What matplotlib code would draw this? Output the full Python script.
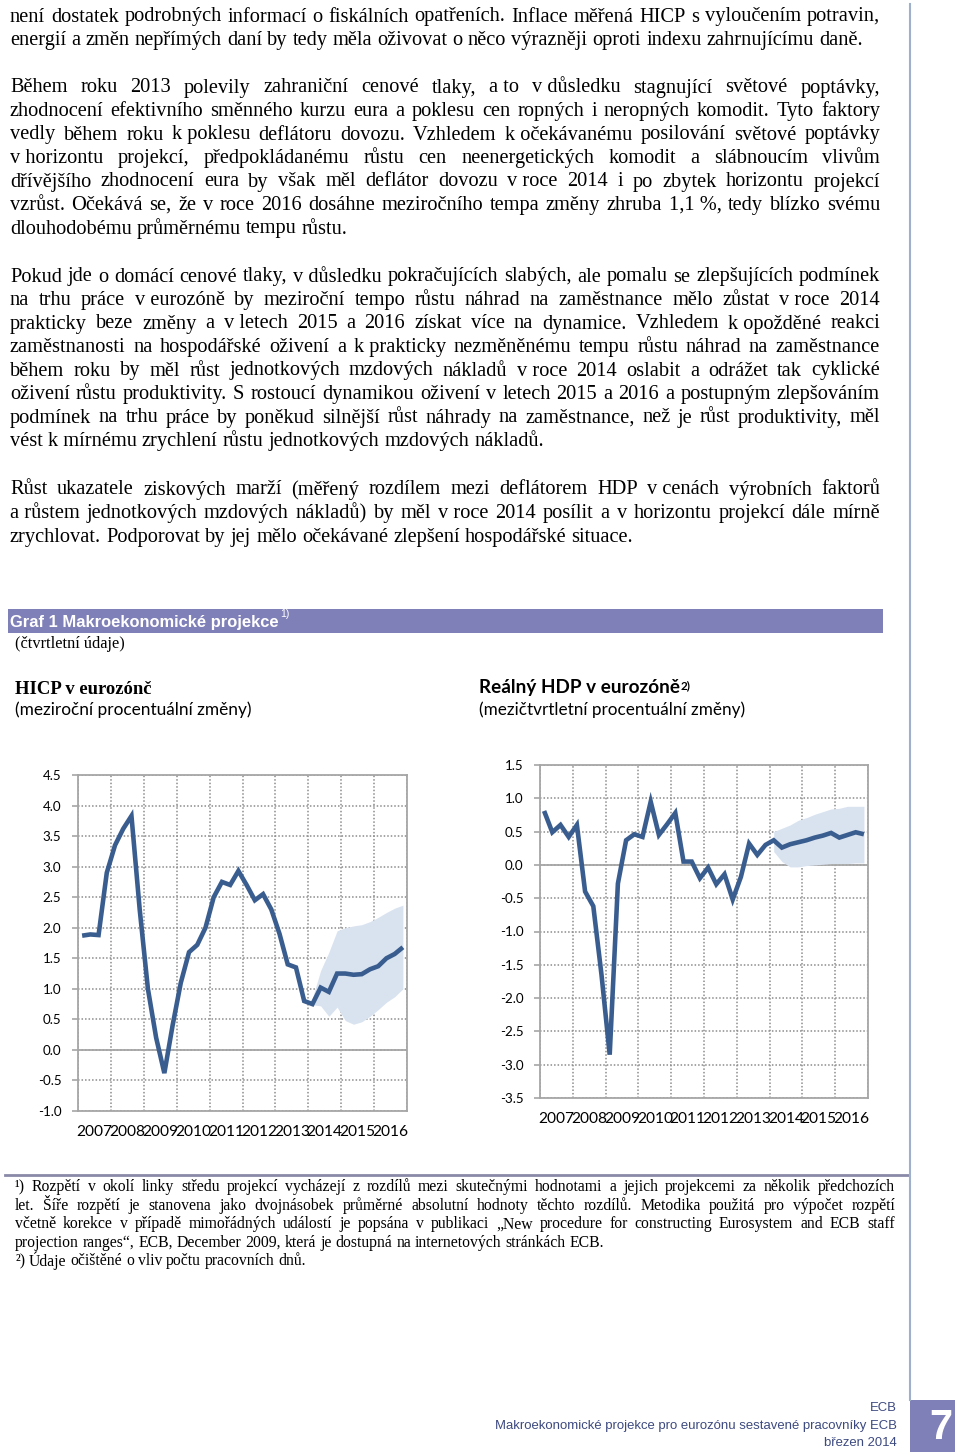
import numpy as np
import matplotlib
matplotlib.use("Agg")
import matplotlib.pyplot as plt
from matplotlib.patches import Rectangle

# ============================================================
# DATA
# ============================================================
years = list(range(2007, 2017))
quarters = [f"{y}Q{q}" for y in years for q in range(1, 5)]

# HICP, y/y % change (quarterly)
hicp = [1.87, 1.89, 1.88, 2.90, 3.35, 3.62, 3.83, 2.30,
        1.00, 0.20, -0.38, 0.40, 1.10, 1.60, 1.72, 2.00,
        2.50, 2.75, 2.70, 2.93, 2.70, 2.45, 2.55, 2.30,
        1.90, 1.40, 1.35, 0.80, 0.75, 1.02, 0.95, 1.25,
        1.25, 1.23, 1.24, 1.32, 1.37, 1.50, 1.57, 1.68]
hicp_lo = [0.74, 0.72, 0.55, 0.70, 0.48, 0.42, 0.46, 0.55, 0.66, 0.78, 0.87, 1.00]
hicp_hi = [0.85, 1.30, 1.60, 1.95, 2.00, 2.03, 2.05, 2.10, 2.17, 2.25, 2.32, 2.37]

# Real GDP, q/q % change
gdp = [0.81, 0.49, 0.60, 0.42, 0.60, -0.40, -0.62, -1.65,
       -2.85, -0.28, 0.37, 0.46, 0.42, 0.95, 0.45, 0.61,
       0.78, 0.05, 0.05, -0.20, -0.04, -0.29, -0.14, -0.52,
       -0.18, 0.32, 0.15, 0.30, 0.37, 0.26, 0.31, 0.34,
       0.37, 0.41, 0.44, 0.48, 0.41, 0.45, 0.49, 0.46]
gdp_lo = [0.20, 0.05, -0.03, -0.03, -0.01, 0.00, 0.01, 0.02, 0.02, 0.02, 0.03, 0.03]
gdp_hi = [0.50, 0.55, 0.60, 0.67, 0.71, 0.76, 0.80, 0.84, 0.85, 0.88, 0.88, 0.88]
proj_start = "2014Q1"

hicp_ticks = np.arange(-1.0, 4.51, 0.5)
gdp_ticks = np.arange(-3.5, 1.51, 0.5)

NB = "\u00a0"
para1 = [
    "není dostatek podrobných informací o fiskálních opatřeních. Inflace měřená HICP s vyloučením potravin,",
    "energií a změn nepřímých daní by tedy měla oživovat o něco výrazněji oproti indexu zahrnujícímu daně.",
]
para2 = [
    f"Během roku 2013 polevily zahraniční cenové tlaky, a{NB}to v{NB}důsledku stagnující světové poptávky,",
    "zhodnocení efektivního směnného kurzu eura a poklesu cen ropných i neropných komodit. Tyto faktory",
    f"vedly během roku k{NB}poklesu deflátoru dovozu. Vzhledem k{NB}očekávanému posilování světové poptávky",
    f"v{NB}horizontu projekcí, předpokládanému růstu cen neenergetických komodit a slábnoucím vlivům",
    f"dřívějšího zhodnocení eura by však měl deflátor dovozu v{NB}roce 2014 i po zbytek horizontu projekcí",
    f"vzrůst. Očekává se, že v roce 2016 dosáhne meziročního tempa změny zhruba 1,1{NB}%, tedy blízko svému",
    "dlouhodobému průměrnému tempu růstu.",
]
para3 = [
    f"Pokud jde o domácí cenové tlaky, v{NB}důsledku pokračujících slabých, ale pomalu se zlepšujících podmínek",
    f"na trhu práce v{NB}eurozóně by meziroční tempo růstu náhrad na zaměstnance mělo zůstat v{NB}roce 2014",
    f"prakticky beze změny a v{NB}letech 2015 a 2016 získat více na dynamice. Vzhledem k{NB}opožděné reakci",
    f"zaměstnanosti na hospodářské oživení a k{NB}prakticky nezměněnému tempu růstu náhrad na zaměstnance",
    f"během roku by měl růst jednotkových mzdových nákladů v{NB}roce 2014 oslabit a odrážet tak cyklické",
    "oživení růstu produktivity. S rostoucí dynamikou oživení v letech 2015 a 2016 a postupným zlepšováním",
    "podmínek na trhu práce by poněkud silnější růst náhrady na zaměstnance, než je růst produktivity, měl",
    f"vést k{NB}mírnému zrychlení růstu jednotkových mzdových nákladů.",
]
para4 = [
    f"Růst ukazatele ziskových marží (měřený rozdílem mezi deflátorem HDP v{NB}cenách výrobních faktorů",
    f"a{NB}růstem jednotkových mzdových nákladů) by měl v{NB}roce 2014 posílit a v horizontu projekcí dále mírně",
    "zrychlovat. Podporovat by jej mělo očekávané zlepšení hospodářské situace.",
]
notes1 = [
    "¹) Rozpětí v okolí linky středu projekcí vycházejí z rozdílů mezi skutečnými hodnotami a jejich projekcemi za několik předchozích",
    "let. Šíře rozpětí je stanovena jako dvojnásobek průměrné absolutní hodnoty těchto rozdílů. Metodika použitá pro výpočet rozpětí",
    "včetně korekce v případě mimořádných událostí je popsána v publikaci „New procedure for constructing Eurosystem and ECB staff",
    "projection ranges“, ECB, December 2009, která je dostupná na internetových stránkách ECB.",
]
notes2 = ["²) Údaje očištěné o vliv počtu pracovních dnů."]

# ============================================================
# STYLE
# ============================================================
SERIF = ["Liberation Serif", "DejaVu Serif"]
SANS = ["Lato", "DejaVu Sans"]
NARROW = ["Liberation Sans", "DejaVu Sans"]
LINE_COLOR = "#3a5d8f"
BAND_COLOR = "#d9e3f0"
GRID_COLOR = "#8c8c8c"
FRAME_COLOR = "#a6a6a6"

fig = plt.figure(figsize=(9.6, 14.55), dpi=100)
page = fig.add_axes([0, 0, 1, 1], zorder=0)
page.set_xlim(0, 960)
page.set_ylim(1455, 0)
page.axis("off")
renderer = fig.canvas.get_renderer()


def justify(lines, x0, x1, y0, dy, size, family, **kw):
    for i, line in enumerate(lines):
        y = y0 + i * dy
        words = line.split(" ")
        texts = [page.text(0, y, w, va="center", ha="left", fontsize=size,
                           family=family, **kw) for w in words]
        widths = [t.get_window_extent(renderer).width for t in texts]
        if i == len(lines) - 1 or len(words) == 1:
            gap = size * 100 / 72 * 0.25
        else:
            gap = (x1 - x0 - sum(widths)) / (len(words) - 1)
        x = x0
        for t, w in zip(texts, widths):
            t.set_x(x)
            x += w + gap


def fit(x, y, s, width, size=10, **kw):
    # shrink/grow the font so that the string spans the given pixel width
    t = page.text(x, y, s, va="center", fontsize=size, **kw)
    w = t.get_window_extent(renderer).width
    t.set_fontsize(size * width / w)
    return t


# body text
BODY = 14.7
justify(para1, 10, 880, 17, 23.5, BODY, SERIF)
justify(para2, 10, 880, 88, 23.5, BODY, SERIF)
justify(para3, 10, 880, 277, 23.5, BODY, SERIF)
justify(para4, 10, 880, 490, 23.6, BODY, SERIF)

# graph header band
page.add_patch(Rectangle((8, 609), 875, 24, color="#8080b9", lw=0))
hdr = fit(10, 622, "Graf 1 Makroekonomické projekce", 268, color="white",
          fontweight="bold", family=NARROW)
hx = 10 + hdr.get_window_extent(renderer).width
page.text(hx + 2, 614, "1)", color="white", fontsize=7.5, family=NARROW, va="center")
fit(15, 644, "(čtvrtletní údaje)", 110, family=SERIF)

# chart titles
fit(15, 690, "HICP v eurozónč", 137, fontweight="bold", family=SERIF)
fit(15, 710, "(meziroční procentuální změny)", 237, family=SANS)
fit(479, 688, "Reálný HDP v eurozóně", 201, fontweight="bold", family=SANS)
page.text(681, 686, "2)", fontsize=8.5, fontweight="bold", family=SANS, va="center")
fit(479, 710, "(mezičtvrtletní procentuální změny)", 265, family=SANS)

# footnotes
page.plot([5, 908], [1175, 1175], color="#8a8aa8", lw=2)
justify(notes1, 15, 895, 1187, 18.6, 11.3, SERIF)
justify(notes2, 15, 895, 1261, 18.6, 11.3, SERIF)

# right margin line, footer, page number
page.plot([910, 910], [4, 1400], color="#9fb0cc", lw=1.5)
page.add_patch(Rectangle((910, 1400), 45, 52, color="#8080b9", lw=0))
page.text(941, 1428, "7", color="white", fontsize=30, fontweight="bold",
          family=NARROW, ha="center", va="center")
ft = fit(897, 1426, "Makroekonomické projekce pro eurozónu sestavené pracovníky ECB",
         402, ha="right", family=NARROW, color="#3d4a80")
for y, s in [(1408, "ECB"), (1443, "březen 2014")]:
    page.text(897, y, s, ha="right", va="center", fontsize=ft.get_fontsize(),
              family=NARROW, color="#3d4a80")


# ============================================================
# CHARTS
# ============================================================
def qpos(q):
    return int(q[:4]) + (int(q[-1]) - 0.5) / 4


def draw_chart(ax, values, lo, hi, ticks):
    xs = [qpos(q) for q in quarters]
    start = quarters.index(proj_start)
    bx = xs[start:]
    ax.fill_between(bx, lo, hi, color=BAND_COLOR, lw=0, zorder=2)
    ax.plot(xs, values, color=LINE_COLOR, lw=3.3, zorder=3,
            solid_joinstyle="miter", solid_capstyle="butt")
    ax.axhline(0, color=FRAME_COLOR, lw=1.3, zorder=1.5)
    ax.set_xlim(years[0], years[-1] + 1)
    ax.set_ylim(ticks[0], ticks[-1])
    ax.set_yticks(ticks)
    ax.set_yticklabels([f"{v:.1f}" for v in ticks], family=SANS, fontsize=9.6)
    ax.set_xticks(range(years[0], years[-1] + 2))
    ax.set_xticklabels([])
    ax.set_xticks([y + 0.5 for y in years], minor=True)
    ax.set_xticklabels([str(y) for y in years], minor=True, family=SANS,
                       fontsize=11.2)
    ax.tick_params(axis="x", which="both", length=0, pad=10)
    ax.tick_params(axis="y", length=4, width=1.2, color=FRAME_COLOR, pad=8)
    ax.grid(True, which="major", ls=(0, (1, 1.3)), color=GRID_COLOR, lw=1.1)
    ax.set_axisbelow(True)
    for s in ax.spines.values():
        s.set_color(FRAME_COLOR)
        s.set_linewidth(1.3)


ax1 = fig.add_axes([78 / 960, 1 - 1111 / 1455, 329 / 960, 336 / 1455])
draw_chart(ax1, hicp, hicp_lo, hicp_hi, hicp_ticks)

ax2 = fig.add_axes([540 / 960, 1 - 1098 / 1455, 328 / 960, 333 / 1455])
draw_chart(ax2, gdp, gdp_lo, gdp_hi, gdp_ticks)

fig.savefig("out.png", dpi=100)
